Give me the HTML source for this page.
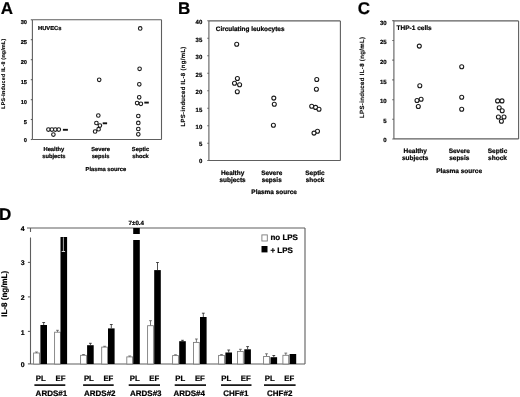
<!DOCTYPE html>
<html><head><meta charset="utf-8"><style>
html,body{margin:0;padding:0;background:#fff;}
body{width:520px;height:397px;overflow:hidden;}
svg{display:block;font-family:"Liberation Sans", sans-serif;text-rendering:geometricPrecision;will-change:transform;}
text{stroke:#000;stroke-width:0.22px;stroke-linejoin:round;}
</style></head><body>
<svg width="520" height="397" viewBox="0 0 520 397">
<g>
<rect width="520" height="397" fill="#fff"/>
<text x="0.8" y="13.9" font-size="17" text-anchor="start" font-weight="bold" fill="#000" >A</text>
<text x="178.0" y="14.1" font-size="17" text-anchor="start" font-weight="bold" fill="#000" >B</text>
<text x="357.8" y="14.3" font-size="17" text-anchor="start" font-weight="bold" fill="#000" >C</text>
<text x="-1.0" y="220.0" font-size="17" text-anchor="start" font-weight="bold" fill="#000" >D</text>
<line x1="32.4" y1="19.7" x2="161.5" y2="19.7" stroke="#5e5e5e" stroke-width="1.1"/>
<line x1="161.5" y1="19.7" x2="161.5" y2="139.5" stroke="#5e5e5e" stroke-width="1.1"/>
<line x1="32.4" y1="139.5" x2="161.5" y2="139.5" stroke="#5e5e5e" stroke-width="1.1"/>
<line x1="32.4" y1="19.7" x2="32.4" y2="139.5" stroke="#5e5e5e" stroke-width="1.1"/>
<line x1="30.799999999999997" y1="19.8" x2="32.4" y2="19.8" stroke="#5e5e5e" stroke-width="1.1"/>
<text x="27.0" y="24.02" font-size="5.7" text-anchor="end" font-weight="bold" fill="#000" style="stroke-width:0.2px">30</text>
<line x1="30.799999999999997" y1="39.7" x2="32.4" y2="39.7" stroke="#5e5e5e" stroke-width="1.1"/>
<text x="27.0" y="44.02" font-size="5.7" text-anchor="end" font-weight="bold" fill="#000" style="stroke-width:0.2px">25</text>
<line x1="30.799999999999997" y1="59.7" x2="32.4" y2="59.7" stroke="#5e5e5e" stroke-width="1.1"/>
<text x="27.0" y="64.02" font-size="5.7" text-anchor="end" font-weight="bold" fill="#000" style="stroke-width:0.2px">20</text>
<line x1="30.799999999999997" y1="79.7" x2="32.4" y2="79.7" stroke="#5e5e5e" stroke-width="1.1"/>
<text x="27.0" y="84.02" font-size="5.7" text-anchor="end" font-weight="bold" fill="#000" style="stroke-width:0.2px">15</text>
<line x1="30.799999999999997" y1="99.7" x2="32.4" y2="99.7" stroke="#5e5e5e" stroke-width="1.1"/>
<text x="27.0" y="104.02" font-size="5.7" text-anchor="end" font-weight="bold" fill="#000" style="stroke-width:0.2px">10</text>
<line x1="30.799999999999997" y1="119.5" x2="32.4" y2="119.5" stroke="#5e5e5e" stroke-width="1.1"/>
<text x="27.0" y="123.92" font-size="5.7" text-anchor="end" font-weight="bold" fill="#000" style="stroke-width:0.2px">5</text>
<line x1="30.799999999999997" y1="139.5" x2="32.4" y2="139.5" stroke="#5e5e5e" stroke-width="1.1"/>
<text x="27.0" y="141.82" font-size="5.7" text-anchor="end" font-weight="bold" fill="#000" style="stroke-width:0.2px">0</text>
<text x="0" y="0" font-size="5.28" text-anchor="middle" font-weight="bold" fill="#000" transform="translate(3.4,73.6) rotate(-90)" dy="1.85" letter-spacing="0.275" style="stroke-width:0.14px">LPS-induced IL-8 (ng/mL)</text>
<text x="38.0" y="30.4" font-size="5.8" text-anchor="start" font-weight="bold" fill="#000" >HUVECs</text>
<text x="53.9" y="151.2" font-size="5.75" text-anchor="middle" font-weight="bold" fill="#000" >Healthy</text>
<text x="53.9" y="158.2" font-size="5.75" text-anchor="middle" font-weight="bold" fill="#000" >subjects</text>
<text x="100.6" y="151.2" font-size="5.75" text-anchor="middle" font-weight="bold" fill="#000" >Severe</text>
<text x="100.6" y="158.2" font-size="5.75" text-anchor="middle" font-weight="bold" fill="#000" >sepsis</text>
<text x="140.5" y="151.2" font-size="5.75" text-anchor="middle" font-weight="bold" fill="#000" >Septic</text>
<text x="140.5" y="158.2" font-size="5.75" text-anchor="middle" font-weight="bold" fill="#000" >shock</text>
<text x="105.9" y="170.6" font-size="5.75" text-anchor="middle" font-weight="bold" fill="#000" >Plasma source</text>
<circle cx="48.4" cy="129.6" r="1.78" fill="#fff" stroke="#1a1a1a" stroke-width="1.1"/>
<circle cx="51.9" cy="129.6" r="1.78" fill="#fff" stroke="#1a1a1a" stroke-width="1.1"/>
<circle cx="55.3" cy="129.6" r="1.78" fill="#fff" stroke="#1a1a1a" stroke-width="1.1"/>
<circle cx="58.8" cy="129.6" r="1.78" fill="#fff" stroke="#1a1a1a" stroke-width="1.1"/>
<circle cx="53.4" cy="134.6" r="1.78" fill="#fff" stroke="#1a1a1a" stroke-width="1.1"/>
<circle cx="99.2" cy="79.8" r="1.78" fill="#fff" stroke="#1a1a1a" stroke-width="1.1"/>
<circle cx="98.3" cy="115.5" r="1.78" fill="#fff" stroke="#1a1a1a" stroke-width="1.1"/>
<circle cx="96.4" cy="123" r="1.78" fill="#fff" stroke="#1a1a1a" stroke-width="1.1"/>
<circle cx="99.9" cy="125.6" r="1.78" fill="#fff" stroke="#1a1a1a" stroke-width="1.1"/>
<circle cx="98.6" cy="129.2" r="1.78" fill="#fff" stroke="#1a1a1a" stroke-width="1.1"/>
<circle cx="95.1" cy="131.5" r="1.78" fill="#fff" stroke="#1a1a1a" stroke-width="1.1"/>
<circle cx="140.2" cy="28.4" r="1.78" fill="#fff" stroke="#1a1a1a" stroke-width="1.1"/>
<circle cx="139.6" cy="68.8" r="1.78" fill="#fff" stroke="#1a1a1a" stroke-width="1.1"/>
<circle cx="139.3" cy="84.3" r="1.78" fill="#fff" stroke="#1a1a1a" stroke-width="1.1"/>
<circle cx="139.2" cy="97.3" r="1.78" fill="#fff" stroke="#1a1a1a" stroke-width="1.1"/>
<circle cx="137.1" cy="103.1" r="1.78" fill="#fff" stroke="#1a1a1a" stroke-width="1.1"/>
<circle cx="140.9" cy="103.8" r="1.78" fill="#fff" stroke="#1a1a1a" stroke-width="1.1"/>
<circle cx="138.3" cy="116" r="1.78" fill="#fff" stroke="#1a1a1a" stroke-width="1.1"/>
<circle cx="138.3" cy="122.9" r="1.78" fill="#fff" stroke="#1a1a1a" stroke-width="1.1"/>
<circle cx="138.3" cy="129" r="1.78" fill="#fff" stroke="#1a1a1a" stroke-width="1.1"/>
<circle cx="138.3" cy="134.3" r="1.78" fill="#fff" stroke="#1a1a1a" stroke-width="1.1"/>
<line x1="62.9" y1="129.8" x2="67.9" y2="129.8" stroke="#111" stroke-width="1.9"/>
<line x1="102.7" y1="123.3" x2="107.1" y2="123.3" stroke="#111" stroke-width="1.9"/>
<line x1="144.3" y1="102.6" x2="148.8" y2="102.6" stroke="#111" stroke-width="1.9"/>
<line x1="208.9" y1="20.9" x2="340.4" y2="20.9" stroke="#5e5e5e" stroke-width="1.1"/>
<line x1="340.4" y1="20.9" x2="340.4" y2="160.5" stroke="#5e5e5e" stroke-width="1.1"/>
<line x1="208.9" y1="160.5" x2="340.4" y2="160.5" stroke="#5e5e5e" stroke-width="1.1"/>
<line x1="208.9" y1="20.9" x2="208.9" y2="160.5" stroke="#5e5e5e" stroke-width="1.1"/>
<line x1="207.3" y1="20.7" x2="208.9" y2="20.7" stroke="#5e5e5e" stroke-width="1.1"/>
<text x="202.3" y="23.83" font-size="6.0" text-anchor="end" font-weight="bold" fill="#000" style="stroke-width:0.2px">40</text>
<line x1="207.3" y1="38.3" x2="208.9" y2="38.3" stroke="#5e5e5e" stroke-width="1.1"/>
<text x="202.3" y="41.63" font-size="6.0" text-anchor="end" font-weight="bold" fill="#000" style="stroke-width:0.2px">35</text>
<line x1="207.3" y1="55.7" x2="208.9" y2="55.7" stroke="#5e5e5e" stroke-width="1.1"/>
<text x="202.3" y="59.03" font-size="6.0" text-anchor="end" font-weight="bold" fill="#000" style="stroke-width:0.2px">30</text>
<line x1="207.3" y1="73.2" x2="208.9" y2="73.2" stroke="#5e5e5e" stroke-width="1.1"/>
<text x="202.3" y="76.53" font-size="6.0" text-anchor="end" font-weight="bold" fill="#000" style="stroke-width:0.2px">25</text>
<line x1="207.3" y1="90.7" x2="208.9" y2="90.7" stroke="#5e5e5e" stroke-width="1.1"/>
<text x="202.3" y="93.93" font-size="6.0" text-anchor="end" font-weight="bold" fill="#000" style="stroke-width:0.2px">20</text>
<line x1="207.3" y1="108.3" x2="208.9" y2="108.3" stroke="#5e5e5e" stroke-width="1.1"/>
<text x="202.3" y="111.53" font-size="6.0" text-anchor="end" font-weight="bold" fill="#000" style="stroke-width:0.2px">15</text>
<line x1="207.3" y1="125.8" x2="208.9" y2="125.8" stroke="#5e5e5e" stroke-width="1.1"/>
<text x="202.3" y="129.23" font-size="6.0" text-anchor="end" font-weight="bold" fill="#000" style="stroke-width:0.2px">10</text>
<line x1="207.3" y1="143.3" x2="208.9" y2="143.3" stroke="#5e5e5e" stroke-width="1.1"/>
<text x="202.3" y="146.33" font-size="6.0" text-anchor="end" font-weight="bold" fill="#000" style="stroke-width:0.2px">5</text>
<line x1="207.3" y1="160.5" x2="208.9" y2="160.5" stroke="#5e5e5e" stroke-width="1.1"/>
<text x="202.3" y="163.13" font-size="6.0" text-anchor="end" font-weight="bold" fill="#000" style="stroke-width:0.2px">0</text>
<text x="0" y="0" font-size="6.01" text-anchor="middle" font-weight="bold" fill="#000" transform="translate(182.9,86.4) rotate(-90)" dy="2.10" letter-spacing="0.313" style="stroke-width:0.14px">LPS-induced IL-8 (ng/mL)</text>
<text x="215.8" y="31.1" font-size="6.45" text-anchor="start" font-weight="bold" fill="#000" >Circulating leukocytes</text>
<text x="232.6" y="175.0" font-size="6.45" text-anchor="middle" font-weight="bold" fill="#000" >Healthy</text>
<text x="232.6" y="182.1" font-size="6.45" text-anchor="middle" font-weight="bold" fill="#000" >subjects</text>
<text x="271.7" y="175.0" font-size="6.45" text-anchor="middle" font-weight="bold" fill="#000" >Severe</text>
<text x="271.7" y="182.1" font-size="6.45" text-anchor="middle" font-weight="bold" fill="#000" >sepsis</text>
<text x="315.0" y="175.0" font-size="6.45" text-anchor="middle" font-weight="bold" fill="#000" >Septic</text>
<text x="315.0" y="182.1" font-size="6.45" text-anchor="middle" font-weight="bold" fill="#000" >shock</text>
<text x="274.1" y="194.4" font-size="6.45" text-anchor="middle" font-weight="bold" fill="#000" >Plasma source</text>
<circle cx="236.7" cy="44.3" r="2.0" fill="#fff" stroke="#1a1a1a" stroke-width="1.1"/>
<circle cx="237.4" cy="78.5" r="2.0" fill="#fff" stroke="#1a1a1a" stroke-width="1.1"/>
<circle cx="234.5" cy="83.3" r="2.0" fill="#fff" stroke="#1a1a1a" stroke-width="1.1"/>
<circle cx="239.6" cy="84.8" r="2.0" fill="#fff" stroke="#1a1a1a" stroke-width="1.1"/>
<circle cx="237.3" cy="91.7" r="2.0" fill="#fff" stroke="#1a1a1a" stroke-width="1.1"/>
<circle cx="273.8" cy="98.1" r="2.0" fill="#fff" stroke="#1a1a1a" stroke-width="1.1"/>
<circle cx="274.3" cy="104.2" r="2.0" fill="#fff" stroke="#1a1a1a" stroke-width="1.1"/>
<circle cx="273.4" cy="125.2" r="2.0" fill="#fff" stroke="#1a1a1a" stroke-width="1.1"/>
<circle cx="316.75" cy="79.5" r="2.0" fill="#fff" stroke="#1a1a1a" stroke-width="1.1"/>
<circle cx="316.4" cy="89.2" r="2.0" fill="#fff" stroke="#1a1a1a" stroke-width="1.1"/>
<circle cx="311.7" cy="106.2" r="2.0" fill="#fff" stroke="#1a1a1a" stroke-width="1.1"/>
<circle cx="315.6" cy="107.4" r="2.0" fill="#fff" stroke="#1a1a1a" stroke-width="1.1"/>
<circle cx="319" cy="109.2" r="2.0" fill="#fff" stroke="#1a1a1a" stroke-width="1.1"/>
<circle cx="317.5" cy="131.3" r="2.0" fill="#fff" stroke="#1a1a1a" stroke-width="1.1"/>
<circle cx="314" cy="133.1" r="2.0" fill="#fff" stroke="#1a1a1a" stroke-width="1.1"/>
<line x1="393.9" y1="20.9" x2="518.6" y2="20.9" stroke="#5e5e5e" stroke-width="1.1"/>
<line x1="518.6" y1="20.9" x2="518.6" y2="138.9" stroke="#5e5e5e" stroke-width="1.1"/>
<line x1="393.9" y1="138.9" x2="518.6" y2="138.9" stroke="#5e5e5e" stroke-width="1.1"/>
<line x1="393.9" y1="20.9" x2="393.9" y2="138.9" stroke="#5e5e5e" stroke-width="1.1"/>
<line x1="392.29999999999995" y1="20.6" x2="393.9" y2="20.6" stroke="#5e5e5e" stroke-width="1.1"/>
<text x="386.6" y="24.73" font-size="6.0" text-anchor="end" font-weight="bold" fill="#000" style="stroke-width:0.2px">30</text>
<line x1="392.29999999999995" y1="40.5" x2="393.9" y2="40.5" stroke="#5e5e5e" stroke-width="1.1"/>
<text x="386.6" y="44.43" font-size="6.0" text-anchor="end" font-weight="bold" fill="#000" style="stroke-width:0.2px">25</text>
<line x1="392.29999999999995" y1="60.1" x2="393.9" y2="60.1" stroke="#5e5e5e" stroke-width="1.1"/>
<text x="386.6" y="63.93" font-size="6.0" text-anchor="end" font-weight="bold" fill="#000" style="stroke-width:0.2px">20</text>
<line x1="392.29999999999995" y1="79.9" x2="393.9" y2="79.9" stroke="#5e5e5e" stroke-width="1.1"/>
<text x="386.6" y="83.63" font-size="6.0" text-anchor="end" font-weight="bold" fill="#000" style="stroke-width:0.2px">15</text>
<line x1="392.29999999999995" y1="99.8" x2="393.9" y2="99.8" stroke="#5e5e5e" stroke-width="1.1"/>
<text x="386.6" y="103.23" font-size="6.0" text-anchor="end" font-weight="bold" fill="#000" style="stroke-width:0.2px">10</text>
<line x1="392.29999999999995" y1="119.3" x2="393.9" y2="119.3" stroke="#5e5e5e" stroke-width="1.1"/>
<text x="386.6" y="122.73" font-size="6.0" text-anchor="end" font-weight="bold" fill="#000" style="stroke-width:0.2px">5</text>
<line x1="392.29999999999995" y1="139.0" x2="393.9" y2="139.0" stroke="#5e5e5e" stroke-width="1.1"/>
<text x="386.6" y="142.03" font-size="6.0" text-anchor="end" font-weight="bold" fill="#000" style="stroke-width:0.2px">0</text>
<text x="0" y="0" font-size="6.1" text-anchor="middle" font-weight="bold" fill="#000" transform="translate(361.6,77.3) rotate(-90)" dy="2.13" letter-spacing="0.317" style="stroke-width:0.14px">LPS-induced IL-8 (ng/mL)</text>
<text x="396.6" y="30.4" font-size="6.5" text-anchor="start" font-weight="bold" fill="#000" >THP-1 cells</text>
<text x="415.2" y="153.1" font-size="6.5" text-anchor="middle" font-weight="bold" fill="#000" >Healthy</text>
<text x="415.2" y="160.3" font-size="6.5" text-anchor="middle" font-weight="bold" fill="#000" >subjects</text>
<text x="459.3" y="153.1" font-size="6.5" text-anchor="middle" font-weight="bold" fill="#000" >Severe</text>
<text x="459.3" y="160.3" font-size="6.5" text-anchor="middle" font-weight="bold" fill="#000" >sepsis</text>
<text x="497.5" y="153.1" font-size="6.5" text-anchor="middle" font-weight="bold" fill="#000" >Septic</text>
<text x="497.5" y="160.3" font-size="6.5" text-anchor="middle" font-weight="bold" fill="#000" >shock</text>
<text x="459.1" y="173.4" font-size="6.5" text-anchor="middle" font-weight="bold" fill="#000" >Plasma source</text>
<circle cx="419.3" cy="46.1" r="2.0" fill="#fff" stroke="#1a1a1a" stroke-width="1.1"/>
<circle cx="419.8" cy="85.7" r="2.0" fill="#fff" stroke="#1a1a1a" stroke-width="1.1"/>
<circle cx="421.1" cy="99.2" r="2.0" fill="#fff" stroke="#1a1a1a" stroke-width="1.1"/>
<circle cx="417" cy="100.5" r="2.0" fill="#fff" stroke="#1a1a1a" stroke-width="1.1"/>
<circle cx="418.3" cy="106.5" r="2.0" fill="#fff" stroke="#1a1a1a" stroke-width="1.1"/>
<circle cx="461.7" cy="66.8" r="2.0" fill="#fff" stroke="#1a1a1a" stroke-width="1.1"/>
<circle cx="461.7" cy="97.3" r="2.0" fill="#fff" stroke="#1a1a1a" stroke-width="1.1"/>
<circle cx="461.7" cy="109.3" r="2.0" fill="#fff" stroke="#1a1a1a" stroke-width="1.1"/>
<circle cx="497.6" cy="100.9" r="2.0" fill="#fff" stroke="#1a1a1a" stroke-width="1.1"/>
<circle cx="502" cy="100.9" r="2.0" fill="#fff" stroke="#1a1a1a" stroke-width="1.1"/>
<circle cx="499.2" cy="107.7" r="2.0" fill="#fff" stroke="#1a1a1a" stroke-width="1.1"/>
<circle cx="502.2" cy="110.7" r="2.0" fill="#fff" stroke="#1a1a1a" stroke-width="1.1"/>
<circle cx="498.4" cy="117" r="2.0" fill="#fff" stroke="#1a1a1a" stroke-width="1.1"/>
<circle cx="504" cy="117" r="2.0" fill="#fff" stroke="#1a1a1a" stroke-width="1.1"/>
<circle cx="501.4" cy="121.3" r="2.0" fill="#fff" stroke="#1a1a1a" stroke-width="1.1"/>
<line x1="27.0" y1="228.0" x2="305.0" y2="228.0" stroke="#5e5e5e" stroke-width="1.1"/>
<line x1="305.0" y1="228.0" x2="305.0" y2="364.0" stroke="#5e5e5e" stroke-width="1.1"/>
<line x1="30.5" y1="364.0" x2="305.0" y2="364.0" stroke="#5e5e5e" stroke-width="1.1"/>
<line x1="30.5" y1="228.0" x2="30.5" y2="232.0" stroke="#5e5e5e" stroke-width="1.1"/>
<line x1="30.5" y1="237.5" x2="30.5" y2="364.0" stroke="#5e5e5e" stroke-width="1.1"/>
<line x1="27.9" y1="262.4" x2="30.5" y2="262.4" stroke="#5e5e5e" stroke-width="1.1"/>
<line x1="27.9" y1="296.9" x2="30.5" y2="296.9" stroke="#5e5e5e" stroke-width="1.1"/>
<line x1="27.9" y1="331.4" x2="30.5" y2="331.4" stroke="#5e5e5e" stroke-width="1.1"/>
<line x1="27.9" y1="363.9" x2="30.5" y2="363.9" stroke="#5e5e5e" stroke-width="1.1"/>
<text x="24.6" y="230.75" font-size="6.9" text-anchor="end" font-weight="bold" fill="#000" >4</text>
<text x="24.6" y="265.45" font-size="6.9" text-anchor="end" font-weight="bold" fill="#000" >3</text>
<text x="24.6" y="299.75" font-size="6.9" text-anchor="end" font-weight="bold" fill="#000" >2</text>
<text x="24.6" y="334.95" font-size="6.9" text-anchor="end" font-weight="bold" fill="#000" >1</text>
<text x="24.6" y="366.85" font-size="6.9" text-anchor="end" font-weight="bold" fill="#000" >0</text>
<text x="0" y="0" font-size="8.0" text-anchor="middle" font-weight="bold" fill="#000" transform="translate(3.9,293.8) rotate(-90)" dy="2.8">IL-8 (ng/mL)</text>
<line x1="36.5" y1="352.0" x2="36.5" y2="353.0" stroke="#555" stroke-width="0.8"/>
<line x1="35.1" y1="352.0" x2="37.9" y2="352.0" stroke="#555" stroke-width="0.8"/>
<rect x="33.6" y="353.0" width="5.8" height="11.0" fill="#fff" stroke="#777" stroke-width="0.85"/>
<rect x="40.4" y="325.0" width="6.6" height="39.0" fill="#000"/>
<line x1="43.699999999999996" y1="322.5" x2="43.699999999999996" y2="325.0" stroke="#222" stroke-width="0.8"/>
<line x1="42.3" y1="322.5" x2="45.099999999999994" y2="322.5" stroke="#222" stroke-width="0.8"/>
<line x1="57.5" y1="330.3" x2="57.5" y2="332.2" stroke="#555" stroke-width="0.8"/>
<line x1="56.1" y1="330.3" x2="58.9" y2="330.3" stroke="#555" stroke-width="0.8"/>
<rect x="54.6" y="332.2" width="5.8" height="31.80000000000001" fill="#fff" stroke="#777" stroke-width="0.85"/>
<rect x="60.5" y="237.0" width="6.6" height="127.0" fill="#000"/>
<line x1="83.5" y1="354.5" x2="83.5" y2="355.3" stroke="#555" stroke-width="0.8"/>
<line x1="82.1" y1="354.5" x2="84.9" y2="354.5" stroke="#555" stroke-width="0.8"/>
<rect x="80.60000000000001" y="355.3" width="5.8" height="8.699999999999989" fill="#fff" stroke="#777" stroke-width="0.85"/>
<rect x="87.1" y="345.2" width="6.6" height="18.80000000000001" fill="#000"/>
<line x1="90.39999999999999" y1="343.3" x2="90.39999999999999" y2="345.2" stroke="#222" stroke-width="0.8"/>
<line x1="88.99999999999999" y1="343.3" x2="91.8" y2="343.3" stroke="#222" stroke-width="0.8"/>
<line x1="104.6" y1="346.3" x2="104.6" y2="347.1" stroke="#555" stroke-width="0.8"/>
<line x1="103.19999999999999" y1="346.3" x2="106.0" y2="346.3" stroke="#555" stroke-width="0.8"/>
<rect x="101.7" y="347.1" width="5.8" height="16.899999999999977" fill="#fff" stroke="#777" stroke-width="0.85"/>
<rect x="108.0" y="328.4" width="6.6" height="35.60000000000002" fill="#000"/>
<line x1="111.3" y1="324.5" x2="111.3" y2="328.4" stroke="#222" stroke-width="0.8"/>
<line x1="109.89999999999999" y1="324.5" x2="112.7" y2="324.5" stroke="#222" stroke-width="0.8"/>
<line x1="129.70000000000002" y1="356.0" x2="129.70000000000002" y2="356.9" stroke="#555" stroke-width="0.8"/>
<line x1="128.3" y1="356.0" x2="131.10000000000002" y2="356.0" stroke="#555" stroke-width="0.8"/>
<rect x="126.80000000000001" y="356.9" width="5.8" height="7.100000000000023" fill="#fff" stroke="#777" stroke-width="0.85"/>
<rect x="133.2" y="240.0" width="6.6" height="124.0" fill="#000"/>
<line x1="150.5" y1="320.7" x2="150.5" y2="325.7" stroke="#555" stroke-width="0.8"/>
<line x1="149.1" y1="320.7" x2="151.9" y2="320.7" stroke="#555" stroke-width="0.8"/>
<rect x="147.6" y="325.7" width="5.8" height="38.30000000000001" fill="#fff" stroke="#777" stroke-width="0.85"/>
<rect x="154.2" y="270.1" width="6.6" height="93.89999999999998" fill="#000"/>
<line x1="157.5" y1="262.5" x2="157.5" y2="270.1" stroke="#222" stroke-width="0.8"/>
<line x1="156.1" y1="262.5" x2="158.9" y2="262.5" stroke="#222" stroke-width="0.8"/>
<line x1="175.5" y1="354.8" x2="175.5" y2="355.6" stroke="#555" stroke-width="0.8"/>
<line x1="174.1" y1="354.8" x2="176.9" y2="354.8" stroke="#555" stroke-width="0.8"/>
<rect x="172.6" y="355.6" width="5.8" height="8.399999999999977" fill="#fff" stroke="#777" stroke-width="0.85"/>
<rect x="179.2" y="341.2" width="6.6" height="22.80000000000001" fill="#000"/>
<line x1="182.5" y1="340.3" x2="182.5" y2="341.2" stroke="#222" stroke-width="0.8"/>
<line x1="181.1" y1="340.3" x2="183.9" y2="340.3" stroke="#222" stroke-width="0.8"/>
<line x1="196.4" y1="339.0" x2="196.4" y2="342.4" stroke="#555" stroke-width="0.8"/>
<line x1="195.0" y1="339.0" x2="197.8" y2="339.0" stroke="#555" stroke-width="0.8"/>
<rect x="193.5" y="342.4" width="5.8" height="21.600000000000023" fill="#fff" stroke="#777" stroke-width="0.85"/>
<rect x="200.0" y="317.0" width="6.6" height="47.0" fill="#000"/>
<line x1="203.3" y1="313.2" x2="203.3" y2="317.0" stroke="#222" stroke-width="0.8"/>
<line x1="201.9" y1="313.2" x2="204.70000000000002" y2="313.2" stroke="#222" stroke-width="0.8"/>
<line x1="221.5" y1="354.6" x2="221.5" y2="355.4" stroke="#555" stroke-width="0.8"/>
<line x1="220.1" y1="354.6" x2="222.9" y2="354.6" stroke="#555" stroke-width="0.8"/>
<rect x="218.6" y="355.4" width="5.8" height="8.600000000000023" fill="#fff" stroke="#777" stroke-width="0.85"/>
<rect x="225.4" y="352.5" width="6.6" height="11.5" fill="#000"/>
<line x1="228.70000000000002" y1="350.0" x2="228.70000000000002" y2="352.5" stroke="#222" stroke-width="0.8"/>
<line x1="227.3" y1="350.0" x2="230.10000000000002" y2="350.0" stroke="#222" stroke-width="0.8"/>
<line x1="240.4" y1="349.3" x2="240.4" y2="351.5" stroke="#555" stroke-width="0.8"/>
<line x1="239.0" y1="349.3" x2="241.8" y2="349.3" stroke="#555" stroke-width="0.8"/>
<rect x="237.5" y="351.5" width="5.8" height="12.5" fill="#fff" stroke="#777" stroke-width="0.85"/>
<rect x="244.3" y="349.3" width="6.6" height="14.699999999999989" fill="#000"/>
<line x1="247.60000000000002" y1="346.6" x2="247.60000000000002" y2="349.3" stroke="#222" stroke-width="0.8"/>
<line x1="246.20000000000002" y1="346.6" x2="249.00000000000003" y2="346.6" stroke="#222" stroke-width="0.8"/>
<line x1="266.5" y1="353.8" x2="266.5" y2="356.5" stroke="#555" stroke-width="0.8"/>
<line x1="265.1" y1="353.8" x2="267.9" y2="353.8" stroke="#555" stroke-width="0.8"/>
<rect x="263.59999999999997" y="356.5" width="5.8" height="7.5" fill="#fff" stroke="#777" stroke-width="0.85"/>
<rect x="270.5" y="357.2" width="6.6" height="6.800000000000011" fill="#000"/>
<line x1="273.8" y1="355.5" x2="273.8" y2="357.2" stroke="#222" stroke-width="0.8"/>
<line x1="272.40000000000003" y1="355.5" x2="275.2" y2="355.5" stroke="#222" stroke-width="0.8"/>
<line x1="285.8" y1="353.1" x2="285.8" y2="355.3" stroke="#555" stroke-width="0.8"/>
<line x1="284.40000000000003" y1="353.1" x2="287.2" y2="353.1" stroke="#555" stroke-width="0.8"/>
<rect x="282.9" y="355.3" width="5.8" height="8.699999999999989" fill="#fff" stroke="#777" stroke-width="0.85"/>
<rect x="289.6" y="354.0" width="6.6" height="10.0" fill="#000"/>
<rect x="133.2" y="228.0" width="6.6" height="6.0" fill="#000"/>
<line x1="63.4" y1="237.3" x2="63.4" y2="251.5" stroke="#d8d8d8" stroke-width="0.8"/>
<line x1="61.7" y1="251.5" x2="65.1" y2="251.5" stroke="#e8e8e8" stroke-width="0.9"/>
<text x="136.3" y="224.8" font-size="6.2" text-anchor="middle" font-weight="bold" fill="#000" >7±0.4</text>
<rect x="261.9" y="234.9" width="5.4" height="6.1" fill="#fff" stroke="#7a7a7a" stroke-width="0.9"/>
<rect x="261.5" y="246.0" width="6.0" height="6.4" fill="#000"/>
<text x="270.4" y="240.0" font-size="8.0" text-anchor="start" font-weight="bold" fill="#000" >no LPS</text>
<text x="270.4" y="252.6" font-size="8.0" text-anchor="start" font-weight="bold" fill="#000" >+ LPS</text>
<text x="40.7" y="380.7" font-size="7.8" text-anchor="middle" font-weight="bold" fill="#000" style="stroke-width:0.22px">PL</text>
<text x="60.5" y="380.7" font-size="7.8" text-anchor="middle" font-weight="bold" fill="#000" style="stroke-width:0.22px">EF</text>
<line x1="34.4" y1="385.1" x2="65.3" y2="385.1" stroke="#000" stroke-width="1.6"/>
<text x="51.4" y="396.4" font-size="8.0" text-anchor="middle" font-weight="bold" fill="#000" style="stroke-width:0.22px">ARDS#1</text>
<text x="88.9" y="380.7" font-size="7.8" text-anchor="middle" font-weight="bold" fill="#000" style="stroke-width:0.22px">PL</text>
<text x="108.4" y="380.7" font-size="7.8" text-anchor="middle" font-weight="bold" fill="#000" style="stroke-width:0.22px">EF</text>
<line x1="83.1" y1="385.1" x2="113.7" y2="385.1" stroke="#000" stroke-width="1.6"/>
<text x="99.8" y="396.4" font-size="8.0" text-anchor="middle" font-weight="bold" fill="#000" style="stroke-width:0.22px">ARDS#2</text>
<text x="134.8" y="380.7" font-size="7.8" text-anchor="middle" font-weight="bold" fill="#000" style="stroke-width:0.22px">PL</text>
<text x="154.2" y="380.7" font-size="7.8" text-anchor="middle" font-weight="bold" fill="#000" style="stroke-width:0.22px">EF</text>
<line x1="128.7" y1="385.1" x2="160.0" y2="385.1" stroke="#000" stroke-width="1.6"/>
<text x="145.8" y="396.4" font-size="8.0" text-anchor="middle" font-weight="bold" fill="#000" style="stroke-width:0.22px">ARDS#3</text>
<text x="180.3" y="380.7" font-size="7.8" text-anchor="middle" font-weight="bold" fill="#000" style="stroke-width:0.22px">PL</text>
<text x="199.9" y="380.7" font-size="7.8" text-anchor="middle" font-weight="bold" fill="#000" style="stroke-width:0.22px">EF</text>
<line x1="174.7" y1="385.1" x2="206.0" y2="385.1" stroke="#000" stroke-width="1.6"/>
<text x="189.2" y="396.4" font-size="8.0" text-anchor="middle" font-weight="bold" fill="#000" style="stroke-width:0.22px">ARDS#4</text>
<text x="226.2" y="380.7" font-size="7.8" text-anchor="middle" font-weight="bold" fill="#000" style="stroke-width:0.22px">PL</text>
<text x="245.8" y="380.7" font-size="7.8" text-anchor="middle" font-weight="bold" fill="#000" style="stroke-width:0.22px">EF</text>
<line x1="221.0" y1="385.1" x2="251.5" y2="385.1" stroke="#000" stroke-width="1.6"/>
<text x="235.8" y="396.4" font-size="8.0" text-anchor="middle" font-weight="bold" fill="#000" style="stroke-width:0.22px">CHF#1</text>
<text x="269.8" y="380.7" font-size="7.8" text-anchor="middle" font-weight="bold" fill="#000" style="stroke-width:0.22px">PL</text>
<text x="289.3" y="380.7" font-size="7.8" text-anchor="middle" font-weight="bold" fill="#000" style="stroke-width:0.22px">EF</text>
<line x1="264.0" y1="385.1" x2="295.6" y2="385.1" stroke="#000" stroke-width="1.6"/>
<text x="279.7" y="396.4" font-size="8.0" text-anchor="middle" font-weight="bold" fill="#000" style="stroke-width:0.22px">CHF#2</text>
</g>
</svg>
</body></html>
